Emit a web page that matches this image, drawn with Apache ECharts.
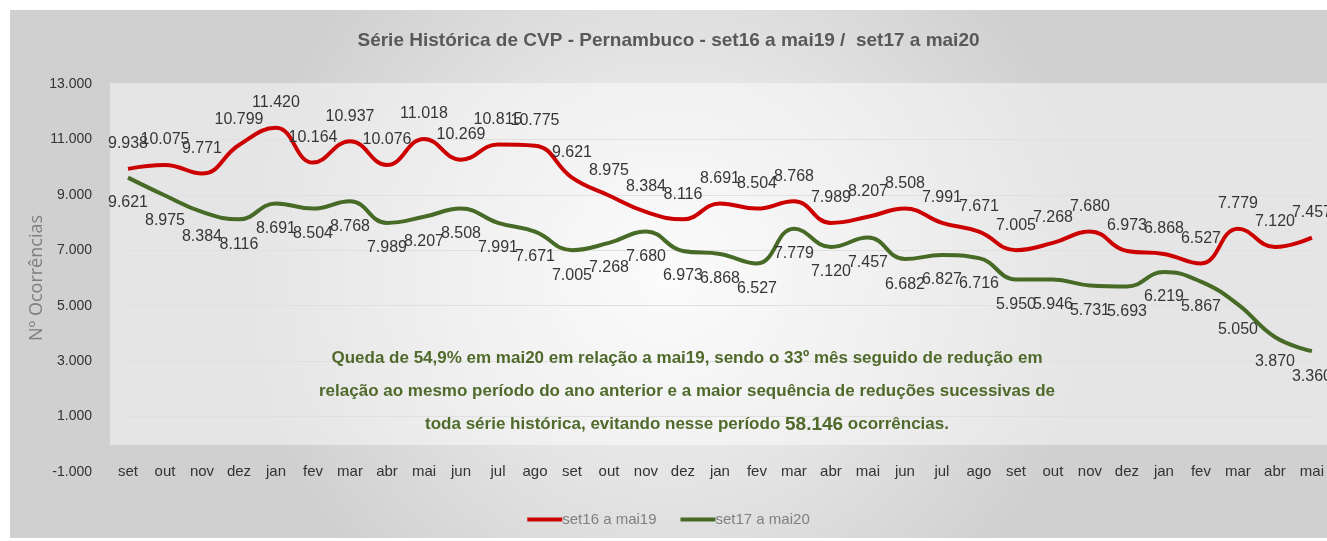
<html>
<head>
    <meta http-equiv="Content-Type" content="text/html; charset=utf-8" />
</head>
<script type="text/javascript" src="https://cdn.jsdelivr.net/npm/echarts@6/dist/echarts.min.js"></script>
<body style="margin:0;background:#ffffff;">
<div id="main" style="position:absolute;left:10px;top:10px;width:1317px;height:528px;"></div>
</body>
<script type="text/javascript">
    // categorias (meses)
    var meses = ['set','out','nov','dez','jan','fev','mar','abr','mai','jun','jul','ago',
                 'set','out','nov','dez','jan','fev','mar','abr','mai','jun','jul','ago',
                 'set','out','nov','dez','jan','fev','mar','abr','mai'];

    // set16 a mai19
    var serie1 = [9938,10075,9771,10799,11420,10164,10937,10076,11018,10269,10815,10775,
                  9621,8975,8384,8116,8691,8504,8768,7989,8207,8508,7991,7671,
                  7005,7268,7680,6973,6868,6527,7779,7120,7457];

    // set17 a mai20
    var serie2 = [9621,8975,8384,8116,8691,8504,8768,7989,8207,8508,7991,7671,
                  7005,7268,7680,6973,6868,6527,7779,7120,7457,6682,6827,6716,
                  5950,5946,5731,5693,6219,5867,5050,3870,3360];

    var nomes = ['set16 a mai19', 'set17 a mai20'];
    var yMin = -1000, yMax = 13000, yPasso = 2000;

    var fonte = '"Liberation Sans", Arial, sans-serif';

    function milhar(v){
        var s = Math.abs(v).toString().replace(/\B(?=(\d{3})+(?!\d))/g, '.');
        return (v < 0 ? '-' : '') + s;
    }

    var myChart = echarts.init(document.getElementById('main'));

    var option = {
        backgroundColor: {
            type: 'radial', x: 0.5, y: 0.5, r: 0.8,
            colorStops: [{offset: 0, color: '#f8f8f8'}, {offset: 1, color: '#d0d0d0'}]
        },
        textStyle: { fontFamily: fonte },
        title: {
            text: 'Série Histórica de CVP - Pernambuco - set16 a mai19 /  set17 a mai20',
            left: 'center',
            top: 16,
            textStyle: { color: '#595959', fontSize: 19, fontWeight: 'bold', fontFamily: fonte }
        },
        legend: {
            bottom: 6,
            left: 'center',
            icon: 'rect',
            itemWidth: 35,
            itemHeight: 4,
            itemGap: 24,
            data: nomes,
            textStyle: { color: '#808080', fontSize: 15, fontFamily: fonte, padding: [0,0,0,-5] }
        },
        grid: {
            left: 118,
            right: 0,
            top: 74,
            bottom: 66
        },
        xAxis: {
            type: 'category',
            data: meses,
            boundaryGap: false,
            axisLine: { show: false },
            axisTick: { show: false },
            axisLabel: { interval: 0, color: '#333333', fontSize: 15, margin: 0, fontFamily: fonte, verticalAlign: 'middle' }
        },
        yAxis: {
            type: 'value',
            min: yMin,
            max: yMax,
            interval: yPasso,
            name: 'Nº Ocorrências',
            nameLocation: 'middle',
            nameGap: 82,
            nameMoveOverlap: false,
            nameTextStyle: { color: '#7f7f7f', fontSize: 18, fontFamily: '"Open Sans", sans-serif' },
            axisLine: { show: false },
            axisTick: { show: false },
            axisLabel: { color: '#333333', fontSize: 14, margin: 36, formatter: milhar, fontFamily: fonte },
            splitLine: { showMinLine: false, showMaxLine: false, lineStyle: { color: '#e0e0e0', width: 1 } }
        },
        series: [
            {
                name: nomes[0],
                type: 'line',
                data: serie1,
                smooth: 0.45,
                symbol: 'circle',
                symbolSize: 0,
                showSymbol: true,
                lineStyle: { color: '#cc0000', width: 4 },
                itemStyle: { color: '#cc0000' },
                label: { show: true, position: 'top', distance: 17, color: '#363636', fontSize: 16,
                         fontFamily: fonte, formatter: function(p){ return milhar(p.value); } },
                z: 3
            },
            {
                name: nomes[1],
                type: 'line',
                data: serie2,
                smooth: 0.45,
                symbol: 'circle',
                symbolSize: 0,
                showSymbol: true,
                lineStyle: { color: '#476a26', width: 4 },
                itemStyle: { color: '#476a26' },
                label: { show: true, position: 'bottom', distance: 17, color: '#363636', fontSize: 16,
                         fontFamily: fonte, formatter: function(p){ return milhar(p.value); } },
                z: 2
            }
        ],
        graphic: [
            {
                // fundo claro da área de plotagem
                type: 'rect',
                z: -10,
                silent: true,
                shape: { x: 100, y: 73, width: 1217, height: 362 },
                style: { fill: 'rgba(255,255,255,0.45)' }
            },
            {
                type: 'text',
                z: 100,
                x: 677,
                y: 332,
                style: {
                    text: 'Queda de 54,9% em mai20 em relação a mai19, sendo o 33º mês seguido de redução em\n' +
                          'relação ao mesmo período do ano anterior e a maior sequência de reduções sucessivas de\n' +
                          'toda série histórica, evitando nesse período {b|58.146} ocorrências.',
                    rich: { b: { fontSize: 19, fontWeight: 'bold', fill: '#4f6a2a', fontFamily: fonte, lineHeight: 33 } },
                    align: 'center',
                    fill: '#4f6a2a',
                    fontSize: 17,
                    fontWeight: 'bold',
                    fontFamily: fonte,
                    lineHeight: 33
                }
            }
        ]
    };

    myChart.setOption(option);
</script>
</html>
